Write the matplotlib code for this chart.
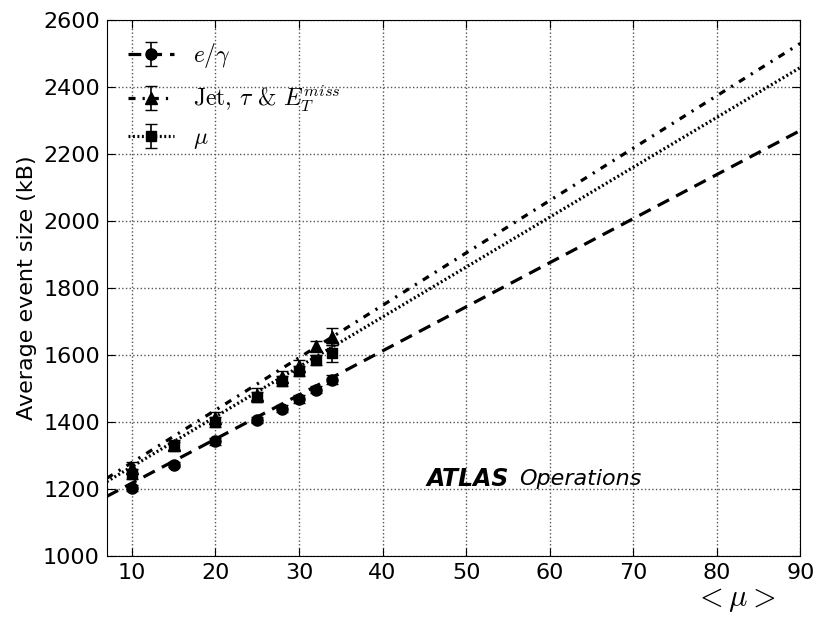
import matplotlib
matplotlib.use("Agg")
import matplotlib.pyplot as plt

plt.rcParams['mathtext.fontset'] = 'cm'

# measured points
mu = [10, 15, 20, 25, 28, 30, 32, 34]
egamma = [1203, 1273, 1342, 1406, 1440, 1470, 1497, 1526]
egamma_err = [8, 8, 10, 10, 10, 12, 10, 14]
jet = [1262, 1332, 1412, 1482, 1535, 1568, 1627, 1655]
jet_err = [18, 15, 18, 18, 18, 18, 14, 25]
muon = [1245, 1328, 1400, 1475, 1522, 1552, 1585, 1605]
muon_err = [14, 12, 15, 15, 15, 15, 15, 25]

# fitted lines (end points)
fit_x = [7, 90]
fit_egamma = [1178, 2270]
fit_jet = [1232, 2530]
fit_muon = [1222, 2458]

dashed = (0, (4, 2.5))
dashdot = (0, (2.2, 2.2, 0.7, 2.2))
dotted = (0, (0.6, 0.8))
lw = 2.3

fig = plt.figure(figsize=(8.15, 6.23), dpi=100)
ax = fig.add_axes([0.131, 0.1075, 0.851, 0.8605])

ax.plot(fit_x, fit_egamma, color='black', lw=lw, ls=dashed)
ax.plot(fit_x, fit_jet, color='black', lw=lw, ls=dashdot)
ax.plot(fit_x, fit_muon, color='black', lw=lw, ls=dotted)

# errorbars carry the fit line style only so the legend shows it
e1 = ax.errorbar(mu, egamma, yerr=egamma_err, marker='o', ls=dashed, lw=lw, color='black',
                 ms=8, capsize=4, elinewidth=1.2)
e2 = ax.errorbar(mu, jet, yerr=jet_err, marker='^', ls=dashdot, lw=lw, color='black',
                 ms=8, capsize=4, elinewidth=1.2)
e3 = ax.errorbar(mu, muon, yerr=muon_err, marker='s', ls=dotted, lw=lw, color='black',
                 ms=7, capsize=4, elinewidth=1.2)

ax.legend([e1, e2, e3],
          [r'$e/\gamma$', r'Jet, $\tau$ & $E_T^{miss}$', r'$\mu$'],
          loc='upper left', frameon=False, prop={'family': 'cmr10', 'size': 17},
          handlelength=1.95, handletextpad=0.8, borderaxespad=0.5, labelspacing=0.55)

for c in (e1, e2, e3):
    c.lines[0].set_linestyle('None')

ax.set_xlim(7, 90)
ax.set_ylim(1000, 2600)
ax.set_xticks(range(10, 91, 10))
ax.set_yticks(range(1000, 2601, 200))
ax.tick_params(direction='in', top=True, right=True, labelsize=16, length=6, pad=5)
ax.grid(True, ls=':', color='#555555', lw=1)

ax.set_ylabel('Average event size (kB)', fontsize=16)
ax.set_xlabel(r'$<\mu>$', fontsize=22, va='center')
ax.xaxis.set_label_coords(0.906, -0.082)

ax.text(45.3, 1230, 'ATLAS', fontsize=17, fontweight='bold', style='italic', va='center')
ax.text(56.4, 1230, 'Operations', fontsize=16, style='italic', va='center')

fig.savefig('out.png', dpi=100)
